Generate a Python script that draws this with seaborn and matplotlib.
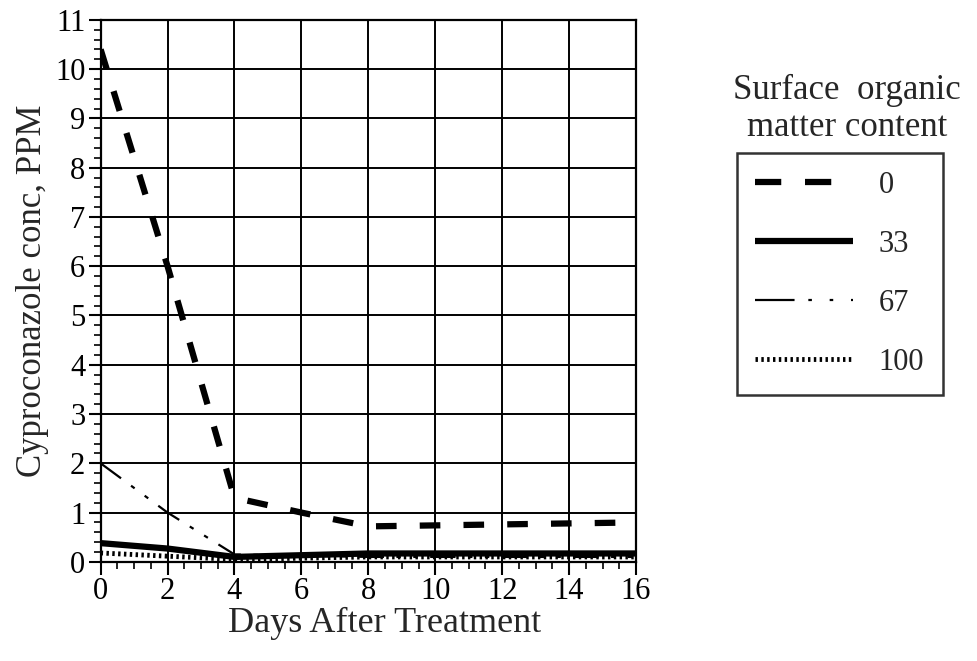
import matplotlib
matplotlib.use("Agg")
import matplotlib.pyplot as plt
import seaborn as sns
import pandas as pd
from matplotlib.ticker import MultipleLocator
from matplotlib.lines import Line2D

# data
days_0 = [0, 2, 4, 6, 8, 12, 16]
conc_0 = [10.4, 6.0, 1.3, 1.0, 0.72, 0.76, 0.8]
days_33 = [0, 2, 4, 8, 16]
conc_33 = [0.38, 0.27, 0.1, 0.17, 0.17]
days_67 = [0, 2, 4, 8, 16]
conc_67 = [2.0, 1.0, 0.15, 0.1, 0.1]
days_100 = [0, 4, 8, 16]
conc_100 = [0.18, 0.05, 0.1, 0.1]
series_labels = ["0", "33", "67", "100"]

frames = []
for lab, d, c in zip(series_labels, [days_0, days_33, days_67, days_100],
                     [conc_0, conc_33, conc_67, conc_100]):
    frames.append(pd.DataFrame({"day": d, "conc": c, "om": lab}))
df = pd.concat(frames, ignore_index=True)

sns.set_style("ticks")
plt.rcParams["font.family"] = ["Liberation Serif", "DejaVu Serif"]

fig = plt.figure(figsize=(9.77, 6.61), dpi=100)
ax = fig.add_axes([0.103, 0.150, 0.548, 0.820])

styles = {
    "0": dict(lw=4.5, dashes=(3.3, 3.7), leg=(4.2, 3.8)),
    "33": dict(lw=4.5, dashes=(), leg=()),
    "67": dict(lw=1.6, dashes=(11.4, 5.6, 2, 5.6, 2, 5.6),
               leg=(17.8, 6.2, 1.6, 8.0, 1.6, 8.0, 1.6, 20)),
    "100": dict(lw=3.5, dashes=(0.5, 0.7), leg=(0.5, 0.7)),
}
handles = []
for lab in series_labels:
    sub = df[df["om"] == lab]
    st = styles[lab]
    sns.lineplot(data=sub, x="day", y="conc", ax=ax, color="black",
                 lw=st["lw"], legend=False)
    l = ax.lines[-1]
    if st["dashes"]:
        l.set_dashes(st["dashes"])
    l.set_solid_capstyle("butt")
    l.set_dash_capstyle("butt")
    h = Line2D([], [], color="black", lw=st["lw"], solid_capstyle="butt",
               dash_capstyle="butt")
    if st["leg"]:
        h.set_dashes(st["leg"])
    handles.append(h)

ax.set_xlim(0, 16)
ax.set_ylim(0, 11)
ax.xaxis.set_major_locator(MultipleLocator(2))
ax.xaxis.set_minor_locator(MultipleLocator(0.5))
ax.yaxis.set_major_locator(MultipleLocator(1))
ax.yaxis.set_minor_locator(MultipleLocator(0.2))
ax.grid(True, which="major", color="black", lw=1.4)
for s in ax.spines.values():
    s.set_color("black")
    s.set_linewidth(1.6)
ax.tick_params(which="major", direction="out", length=9, width=1.5, labelsize=22, colors="black", pad=2)
ax.tick_params(which="minor", direction="out", length=5, width=1.2, colors="black")
ax.set_xlabel("Days After Treatment", fontsize=26)
ax.xaxis.set_label_coords(0.53, -0.083)
ax.set_ylabel("Cyproconazole conc, PPM", fontsize=25, labelpad=4)

leg = fig.legend(handles, series_labels, loc="upper left",
                 bbox_to_anchor=(0.754, 0.769), frameon=True, fancybox=False,
                 edgecolor="black", fontsize=22, handlelength=3.2,
                 labelspacing=0.98, borderpad=0.6, handletextpad=0.85,
                 borderaxespad=0)
leg.get_frame().set_linewidth(1.8)
fig.text(0.867, 0.835, "Surface  organic\nmatter content", ha="center", va="center",
         fontsize=25, linespacing=1.15)

fig.savefig("out.png", dpi=100, facecolor="white")
